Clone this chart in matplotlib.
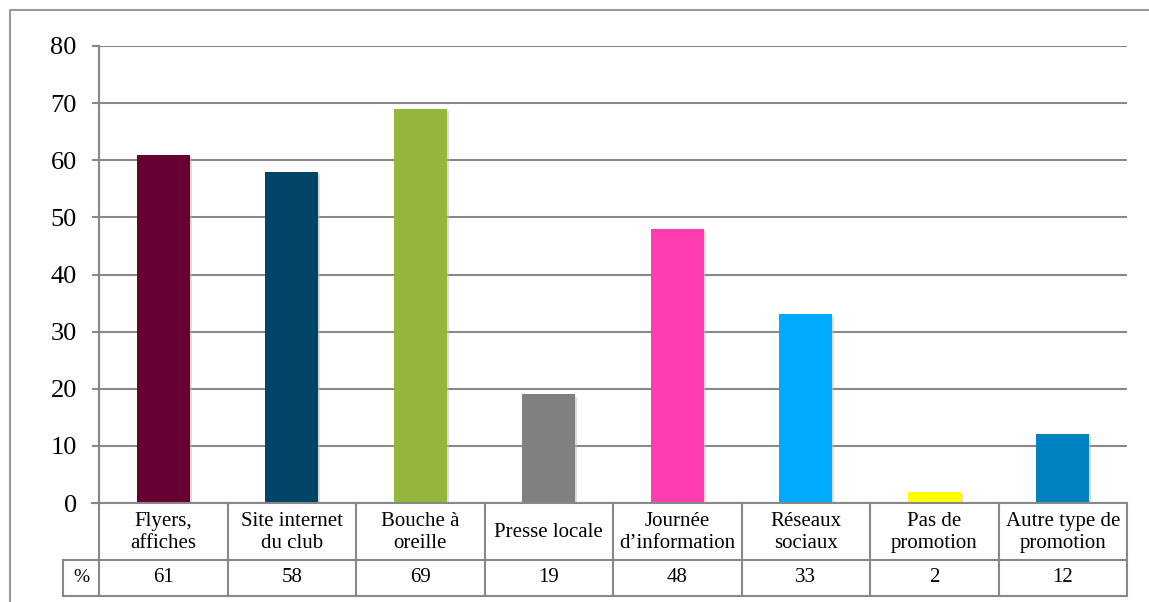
import matplotlib.pyplot as plt
from matplotlib.lines import Line2D
import matplotlib.patheffects as pe

# data
categories = ['Flyers,\naffiches', 'Site internet\ndu club', 'Bouche à\noreille',
              'Presse locale', 'Journée\nd\u2019information', 'Réseaux\nsociaux',
              'Pas de\npromotion', 'Autre type de\npromotion']
values = [61, 58, 69, 19, 48, 33, 2, 12]
colors = ['#660033', '#004466', '#92B73A', '#808080', '#FF3DB1', '#00AAFF', '#FFFF00', '#0081C2']
yticks = [0, 10, 20, 30, 40, 50, 60, 70, 80]

plt.rcParams['font.family'] = ['Liberation Serif', 'DejaVu Serif']

W, H = 1149, 602
fig = plt.figure(figsize=(W / 100, H / 100), dpi=100)
x0, x1, ytop, ybot = 99, 1127, 46, 503
ax = fig.add_axes([x0 / W, 1 - ybot / H, (x1 - x0) / W, (ybot - ytop) / H])

grid_c = '#888888'
n = len(values)
bars = ax.bar(range(n), values, width=0.41, color=colors, zorder=3)
for b in bars:
    b.set_path_effects([pe.SimplePatchShadow(offset=(1.5, -1.5), shadow_rgbFace='#bbbbbb', alpha=0.5),
                        pe.Normal()])
ax.set_xlim(-0.5, n - 0.5)
ax.set_ylim(0, 80)
ax.set_yticks(yticks)
ax.tick_params(axis='y', labelsize=19, length=5, width=1.5, color=grid_c, pad=11)
ax.tick_params(axis='x', bottom=False, labelbottom=False)
ax.yaxis.grid(True, color=grid_c, lw=1.5, zorder=0)
for s in ['top', 'right', 'bottom']:
    ax.spines[s].set_visible(False)
ax.spines['left'].set_color(grid_c)
ax.spines['left'].set_linewidth(1.5)

# table below the axis (pixel positions converted to figure coords)
def fx(px):
    return px / W

def fy(py):
    return 1 - py / H

row1, row2, row3 = 503, 560, 596
cw = (x1 - x0) / n
lines = [
    ([x0 - 7, x1], [row1, row1]),
    ([63, x1], [row2, row2]),
    ([63, x1], [row3, row3]),
    ([x0, x0], [ytop, row3]),
    ([63, 63], [row2, row3]),
]
for i in range(1, n + 1):
    xb = x0 + i * cw
    lines.append(([xb, xb], [row1, row3]))
for xs, ys in lines:
    fig.add_artist(Line2D([fx(v) for v in xs], [fy(v) for v in ys], color=grid_c, lw=1.5))

for i in range(n):
    xc = x0 + (i + 0.5) * cw
    fig.text(fx(xc), fy((row1 + row2) / 2 + 1), categories[i], ha='center', va='center',
             fontsize=15, linespacing=1.15)
    fig.text(fx(xc), fy((row2 + row3) / 2), str(values[i]), ha='center', va='center',
             fontsize=15)
fig.text(fx((63 + x0) / 2), fy((row2 + row3) / 2), '%', ha='center', va='center', fontsize=14)

# outer frame
fig.add_artist(Line2D([fx(10), fx(10), fx(W)], [fy(H), fy(10), fy(10)], color='#9a9a9a', lw=1.5))

fig.savefig('out.png', dpi=100)
